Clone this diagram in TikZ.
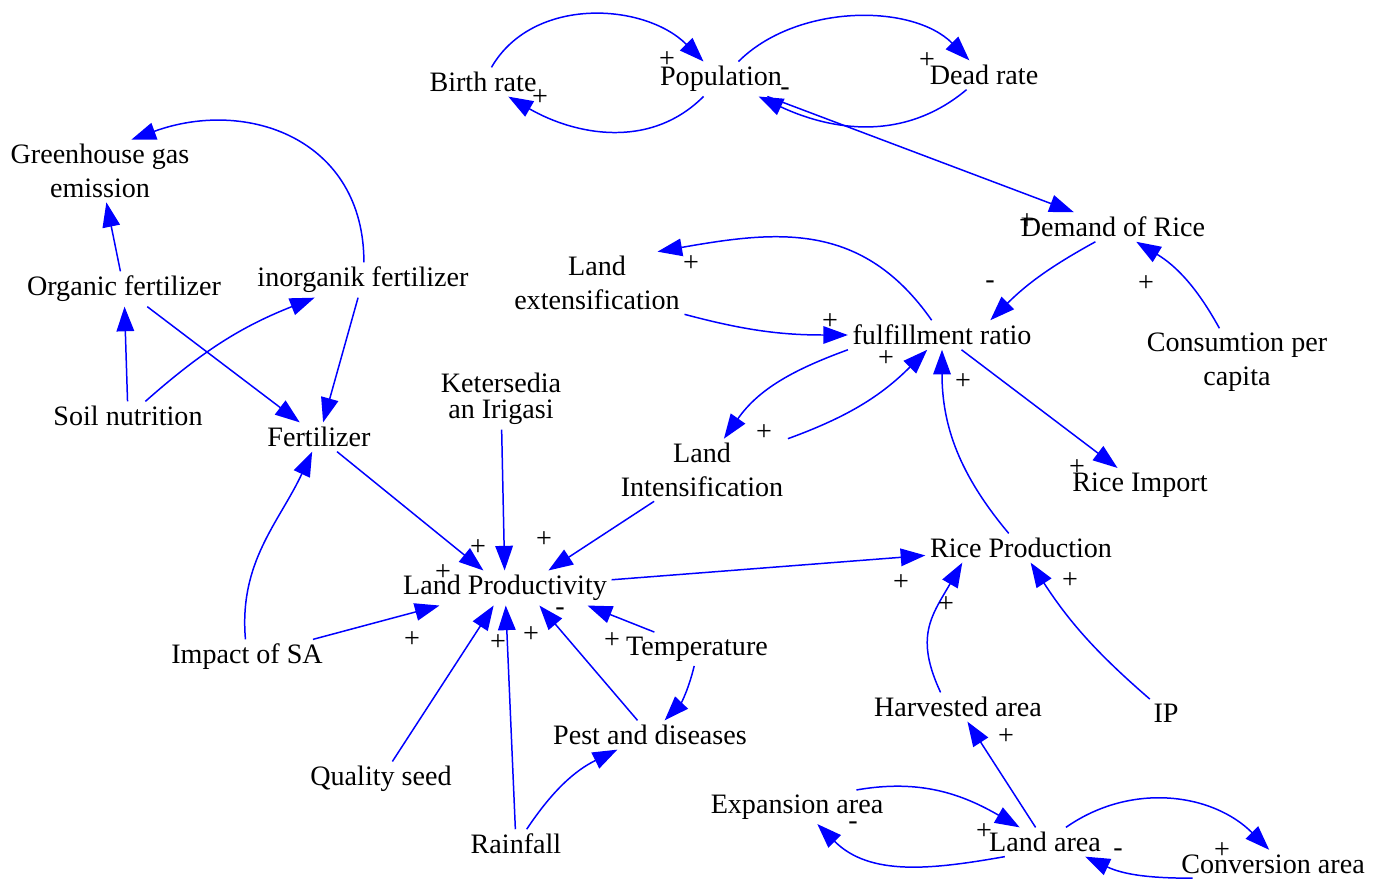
\documentclass[tikz,border=0pt]{standalone}
\usepackage{fontspec}
\setmainfont{Liberation Serif}
\usetikzlibrary{arrows.meta, calc}

\begin{document}
\begin{tikzpicture}[
    x=0.02cm, y=0.02cm,
    var/.style={inner sep=2.5pt, font=\fontsize{16}{19}\selectfont, align=center},
    sign/.style={inner sep=0pt, font=\fontsize{16}{19}\selectfont},
    link/.style={-{Triangle[length=14pt, width=10pt]}, draw=vblue, line width=0.85pt}
]

\definecolor{vblue}{RGB}{0,0,255}

\useasboundingbox (0,0) rectangle (1385,-879);

% variables
\node[var] (birth_rate) at (483,-82) {Birth rate};
\node[var] (population) at (721,-79) {Population};
\node[var] (dead_rate) at (984,-75) {Dead rate};
\node[var] (ghg_emis) at (100,-171) {Greenhouse gas\\emission};
\node[var] (org_fert) at (124,-289) {Organic fertilizer};
\node[var] (inorg_fert) at (363,-280) {inorganik fertilizer};
\node[var] (soil_nut) at (128,-416) {Soil nutrition};
\node[var] (fert) at (319,-437) {Fertilizer};
\node[var, font=\fontsize{16}{15}\selectfont] (irig) at (501,-399) {Ketersedia\\an Irigasi};
\node[var] (land_ext) at (597,-283) {Land\\extensification};
\node[var] (demand) at (1113,-227) {Demand of Rice};
\node[var] (ratio) at (942,-335) {fulfillment ratio};
\node[var] (consum) at (1237,-362) {Consumtion per\\capita};
\node[var] (land_int) at (702,-470) {Land\\Intensification};
\node[var] (rice_imp) at (1140,-485) {Rice Import};
\node[var] (land_prod) at (505,-588) {Land Productivity};
\node[var] (rice_prod) at (1021,-548) {Rice Production};
\node[var] (impact_sa) at (247,-657) {Impact of SA};
\node[var] (temp) at (697,-649) {Temperature};
\node[var] (pest) at (650,-735) {Pest and diseases};
\node[var] (seed) at (381,-779) {Quality seed};
\node[var] (rain) at (516,-844) {Rainfall};
\node[var] (harv) at (958,-707) {Harvested area};
\node[var] (ip) at (1166,-713) {IP};
\node[var] (exp_area) at (797,-807) {Expansion area};
\node[var] (land_area) at (1045,-842) {Land area};
\node[var] (conv_area) at (1273,-864) {Conversion area};

% population loops
\draw[link] (birth_rate) to[out=60, in=135] (population);
\draw[link] (population) to[out=-135, in=-30] (birth_rate);
\draw[link] (population) to[out=45, in=135, looseness=0.9] (dead_rate);
\draw[link] (dead_rate) to[out=-140, in=-25] (population);
\draw[link] (population) -- (demand);
\draw[link] (consum) to[bend right=15] (demand);
\draw[link] (demand.-140) to[bend right=8] (ratio.17);

% fulfillment ratio
\draw[link] (ratio) to[out=125, in=10, looseness=1.1] ($(land_ext.north east)+(-27,0)$);
\draw[link] (land_ext.south east) to[out=-15, in=180] (ratio);
\draw[link] (ratio.south west) to[out=-160, in=55] (land_int);
\draw[link] (land_int.north east) to[out=20, in=-135] (ratio);
\draw[link] (rice_prod) to[out=130, in=-90] (ratio);
\draw[link] (ratio) -- (rice_imp);

% fertilizer
\draw[link] (inorg_fert.87) to[out=90, in=20, looseness=1.2] (ghg_emis.45);
\draw[link] (org_fert) -- (ghg_emis);
\draw[link] (soil_nut) -- (org_fert);
\draw[link] (soil_nut) to[bend left=10] (inorg_fert);
\draw[link] (org_fert) -- (fert);
\draw[link] (inorg_fert) -- (fert);
\draw[link] (impact_sa) to[out=95, in=-115] (fert);

% land productivity
\draw[link] (fert) -- (land_prod);
\draw[link] (irig) -- (land_prod);
\draw[link] (land_int) -- (land_prod.22);
\draw[link] (impact_sa) -- (land_prod);
\draw[link] (seed) -- (land_prod);
\draw[link] (rain) -- (land_prod);
\draw[link] (pest) -- (land_prod.-27);
\draw[link] (temp) -- (land_prod.-12);
\draw[link] (temp) to[bend left=15] (pest.45);
\draw[link] (rain) to[bend left=15] (pest);

% rice production and land area
\draw[link] (land_prod) -- (rice_prod);
\draw[link] (harv.140) to[out=115, in=-120, looseness=1.2] (rice_prod.-166);
\draw[link] (ip) to[bend left=8] (rice_prod);
\draw[link] (land_area) -- (harv);
\draw[link] (exp_area.16) to[out=10, in=150] (land_area.150);
\draw[link] (land_area.-160) to[out=-170, in=-45] (exp_area.-40);
\draw[link] (land_area.35) to[out=35, in=135] (conv_area.105);
\draw[link] (conv_area.-170) to[out=180, in=-25] (land_area.-20);

% polarities
\node[sign] (s_birth_pop) at (667,-60) {+};
\node[sign] (s_pop_birth) at (540,-98) {+};
\node[sign] (s_pop_dead) at (927,-61) {+};
\node[sign] (s_dead_pop) at (785,-92) {-};
\node[sign] (s_pop_dem) at (1027,-222) {+};
\node[sign] (s_con_dem) at (1146,-284) {+};
\node[sign] (s_dem_rat) at (990,-285) {-};
\node[sign] (s_rat_ext) at (691,-264) {+};
\node[sign] (s_ext_rat) at (830,-322) {+};
\node[sign] (s_rat_int) at (886,-359) {+};
\node[sign] (s_int_rat) at (764,-433) {+};
\node[sign] (s_prod_rat) at (963,-382) {+};
\node[sign] (s_rat_imp) at (1077,-468) {+};
\node[sign] (s_int_lp) at (544,-540) {+};
\node[sign] (s_irig_lp) at (478,-548) {+};
\node[sign] (s_fert_lp) at (443,-573) {+};
\node[sign] (s_sa_lp) at (412,-640) {+};
\node[sign] (s_rain_lp) at (498,-643) {+};
\node[sign] (s_seed_lp) at (531,-635) {+};
\node[sign] (s_pest_lp) at (560,-612) {-};
\node[sign] (s_temp_lp) at (612,-641) {+};
\node[sign] (s_lp_rp) at (901,-583) {+};
\node[sign] (s_harv_rp) at (946,-605) {+};
\node[sign] (s_ip_rp) at (1070,-581) {+};
\node[sign] (s_land_harv) at (1006,-737) {+};
\node[sign] (s_exp_land) at (984,-832) {+};
\node[sign] (s_land_exp) at (853,-826) {-};
\node[sign] (s_land_conv) at (1222,-851) {+};
\node[sign] (s_conv_land) at (1118,-853) {-};

\end{tikzpicture}
\end{document}
